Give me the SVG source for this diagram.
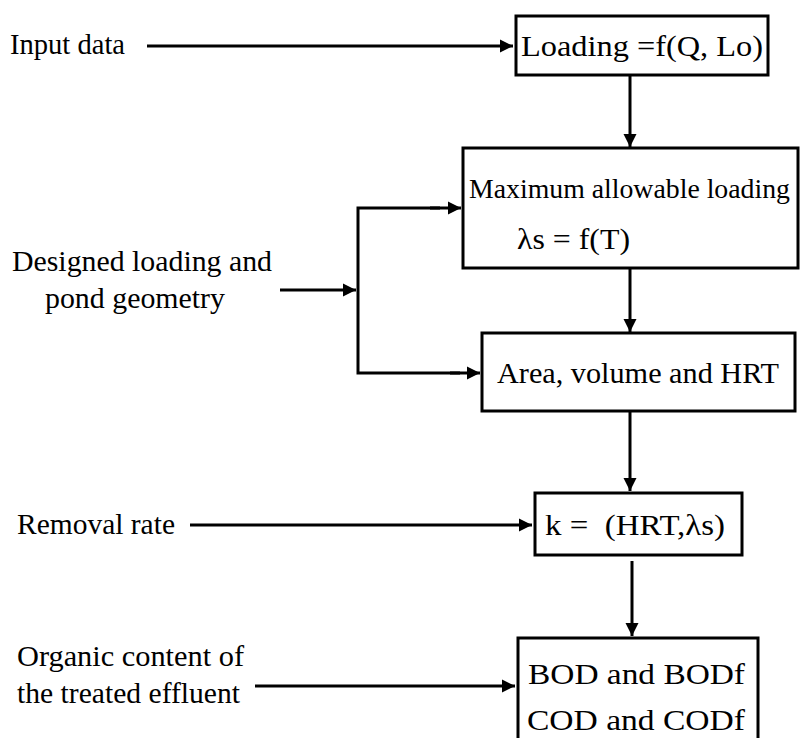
<svg xmlns="http://www.w3.org/2000/svg" width="811" height="738" viewBox="0 0 811 738">
<style>
text{font-family:"Liberation Serif","DejaVu Serif","Times New Roman",serif;font-size:30px;fill:#000}
.box{fill:#fff;stroke:#000;stroke-width:3}
.ln{fill:none;stroke:#000;stroke-width:3}
</style>
<defs>
<marker id="ah" viewBox="0 0 10 10" refX="10" refY="5" markerWidth="4.5" markerHeight="4.5" orient="auto" markerUnits="strokeWidth">
<path d="M0,0 L10,5 L0,10 z" fill="#000"/>
</marker>
</defs>
<rect width="811" height="738" fill="#fff"/>
<g id="connectors">
<line class="ln" x1="147" y1="46" x2="513" y2="46" marker-end="url(#ah)"/>
<line class="ln" x1="630" y1="75" x2="630" y2="147" marker-end="url(#ah)"/>
<line class="ln" x1="630" y1="268" x2="630" y2="332" marker-end="url(#ah)"/>
<line class="ln" x1="280" y1="290" x2="356" y2="290" marker-end="url(#ah)"/>
<polyline class="ln" points="440,208 358,208 358,373 460,373"/>
<line class="ln" x1="430" y1="208" x2="461" y2="208" marker-end="url(#ah)"/>
<line class="ln" x1="450" y1="373" x2="480" y2="373" marker-end="url(#ah)"/>
<line class="ln" x1="630" y1="411" x2="630" y2="491" marker-end="url(#ah)"/>
<line class="ln" x1="190" y1="525" x2="532" y2="525" marker-end="url(#ah)"/>
<line class="ln" x1="632" y1="561" x2="632" y2="636" marker-end="url(#ah)"/>
<line class="ln" x1="255" y1="686" x2="515" y2="686" marker-end="url(#ah)"/>
</g>
<g id="input-data"><text x="10" y="54" textLength="115" lengthAdjust="spacingAndGlyphs">Input data</text></g>
<g id="loading"><rect class="box" x="516" y="16" width="252" height="59"/><text x="521" y="56" textLength="242" lengthAdjust="spacingAndGlyphs">Loading =f(Q, Lo)</text></g>
<g id="max-loading"><rect class="box" x="463" y="148" width="335" height="120"/><text x="469" y="198" font-size="28" textLength="321" lengthAdjust="spacingAndGlyphs" style="font-size:28px">Maximum allowable loading</text><text x="517" y="249" textLength="113" lengthAdjust="spacingAndGlyphs">λs = f(T)</text></g>
<g id="designed"><text x="12" y="271" textLength="260" lengthAdjust="spacingAndGlyphs">Designed loading and</text><text x="45" y="308" textLength="180" lengthAdjust="spacingAndGlyphs">pond geometry</text></g>
<g id="area"><rect class="box" x="482" y="333" width="313" height="78"/><text x="497" y="383" textLength="282" lengthAdjust="spacingAndGlyphs">Area, volume and HRT</text></g>
<g id="removal"><text x="17" y="534" textLength="158" lengthAdjust="spacingAndGlyphs">Removal rate</text></g>
<g id="k"><rect class="box" x="535" y="493" width="207" height="62"/><text x="545" y="535" textLength="180" lengthAdjust="spacingAndGlyphs" xml:space="preserve">k =  (HRT,λs)</text></g>
<g id="organic"><text x="17" y="666" textLength="227" lengthAdjust="spacingAndGlyphs">Organic content of</text><text x="17" y="703" textLength="223" lengthAdjust="spacingAndGlyphs">the treated effluent</text></g>
<g id="bod"><rect class="box" x="518" y="638" width="240" height="110"/><text x="528" y="684" textLength="217" lengthAdjust="spacingAndGlyphs">BOD and BODf</text><text x="527" y="730" textLength="218" lengthAdjust="spacingAndGlyphs">COD and CODf</text></g>
</svg>
